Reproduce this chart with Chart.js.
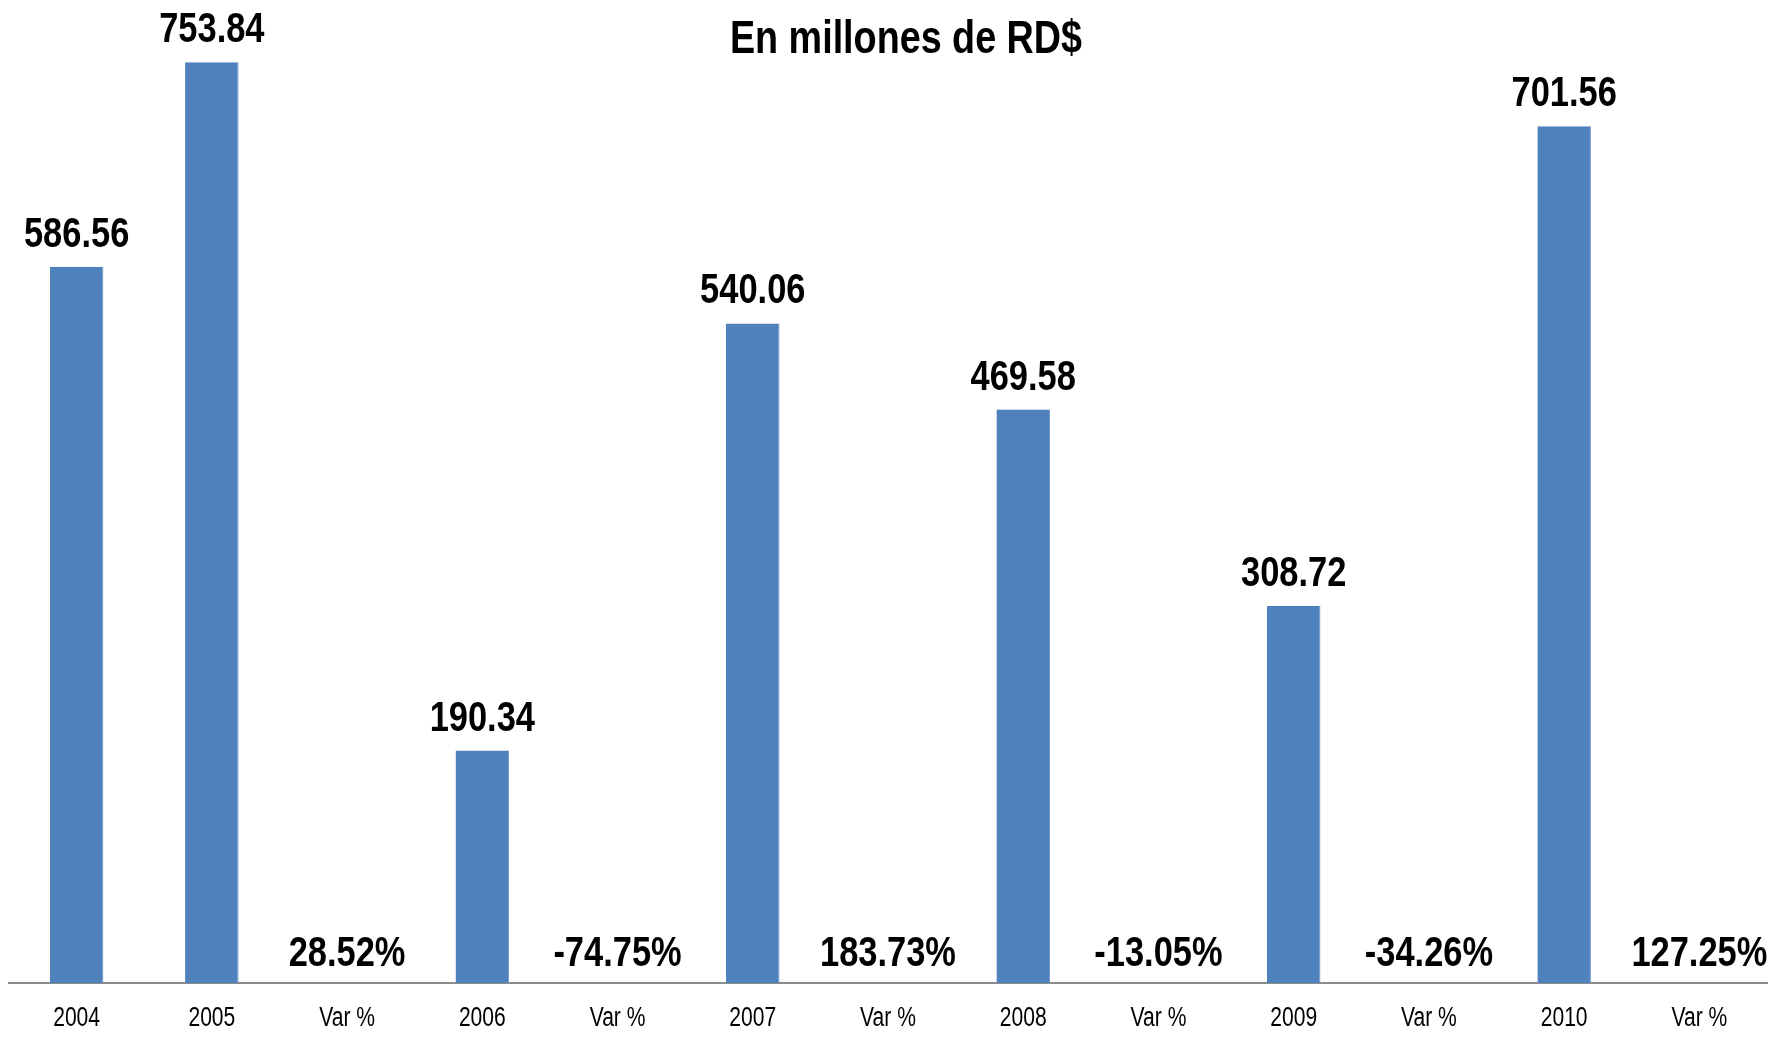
<!DOCTYPE html>
<html>
<head>
<meta charset="utf-8">
<script src="https://cdn.jsdelivr.net/npm/chart.js@4.4.1/dist/chart.umd.min.js"></script>
<style>
  html, body { margin: 0; padding: 0; background: #fff; }
  #wrap { width: 1787px; height: 1038px; }
</style>
</head>
<body>
<div id="wrap"><canvas id="ventasChart"></canvas></div>
<script>
var categorias = ["2004", "2005", "Var %", "2006", "Var %", "2007", "Var %", "2008", "Var %", "2009", "Var %", "2010", "Var %"];
var montos = [586.56, 753.84, null, 190.34, null, 540.06, null, 469.58, null, 308.72, null, 701.56, null];
var variaciones = [null, null, 28.52, null, -74.75, null, 183.73, null, -13.05, null, -34.26, null, 127.25];
var titulo = "En millones de RD$";

var fuente = "'Liberation Sans', Arial, sans-serif";
var estrecho = 0.82; // simula Arial Narrow

function textoEstrecho(ctx, txt, x, y, esc) {
    esc = esc || estrecho;
    ctx.save();
    ctx.scale(esc, 1);
    ctx.fillText(txt, x / esc, y);
    ctx.restore();
}

// etiquetas de valores, variaciones, categorias y titulo
var etiquetas = {
    id: "etiquetas",
    afterDatasetsDraw: function(chart) {
        var ctx = chart.ctx;
        var meta = chart.getDatasetMeta(0);
        var xs = chart.scales.x;
        var base = chart.scales.y.getPixelForValue(0);
        ctx.save();
        ctx.fillStyle = "#000";
        ctx.textAlign = "center";
        ctx.textBaseline = "alphabetic";
        ctx.font = "bold 42px " + fuente;
        meta.data.forEach(function(bar, i) {
            if (montos[i] != null) {
                textoEstrecho(ctx, montos[i].toFixed(2), bar.x, bar.y - 20);
            }
            if (variaciones[i] != null) {
                textoEstrecho(ctx, variaciones[i].toFixed(2) + "%", xs.getPixelForValue(i), base - 17);
            }
        });
        ctx.font = "27px " + fuente;
        categorias.forEach(function(c, i) {
            textoEstrecho(ctx, c, xs.getPixelForValue(i), base + 43, 0.78);
        });
        ctx.font = "bold 46px " + fuente;
        textoEstrecho(ctx, titulo, 906, 53);
        ctx.restore();
    }
};

new Chart("ventasChart", {
    type: "bar",
    data: {
        labels: categorias,
        datasets: [{
            data: montos,
            backgroundColor: "#4F81BD",
            borderColor: "#6F98CB",
            borderWidth: {right: 1, left: 0, top: 0, bottom: 0},
            barPercentage: 0.396,
            categoryPercentage: 1
        }]
    },
    options: {
        responsive: true,
        maintainAspectRatio: false,
        animation: false,
        layout: {padding: {top: 6, left: 9, right: 20, bottom: 55}},
        plugins: {
            legend: {display: false},
            title: {display: false},
            tooltip: {enabled: false}
        },
        scales: {
            x: {
                grid: {display: false, drawTicks: false},
                border: {display: true, color: "#8C8C8C", width: 2},
                ticks: {display: false}
            },
            y: {
                display: false,
                min: 0,
                max: 800
            }
        }
    },
    plugins: [etiquetas]
});
</script>
</body>
</html>
